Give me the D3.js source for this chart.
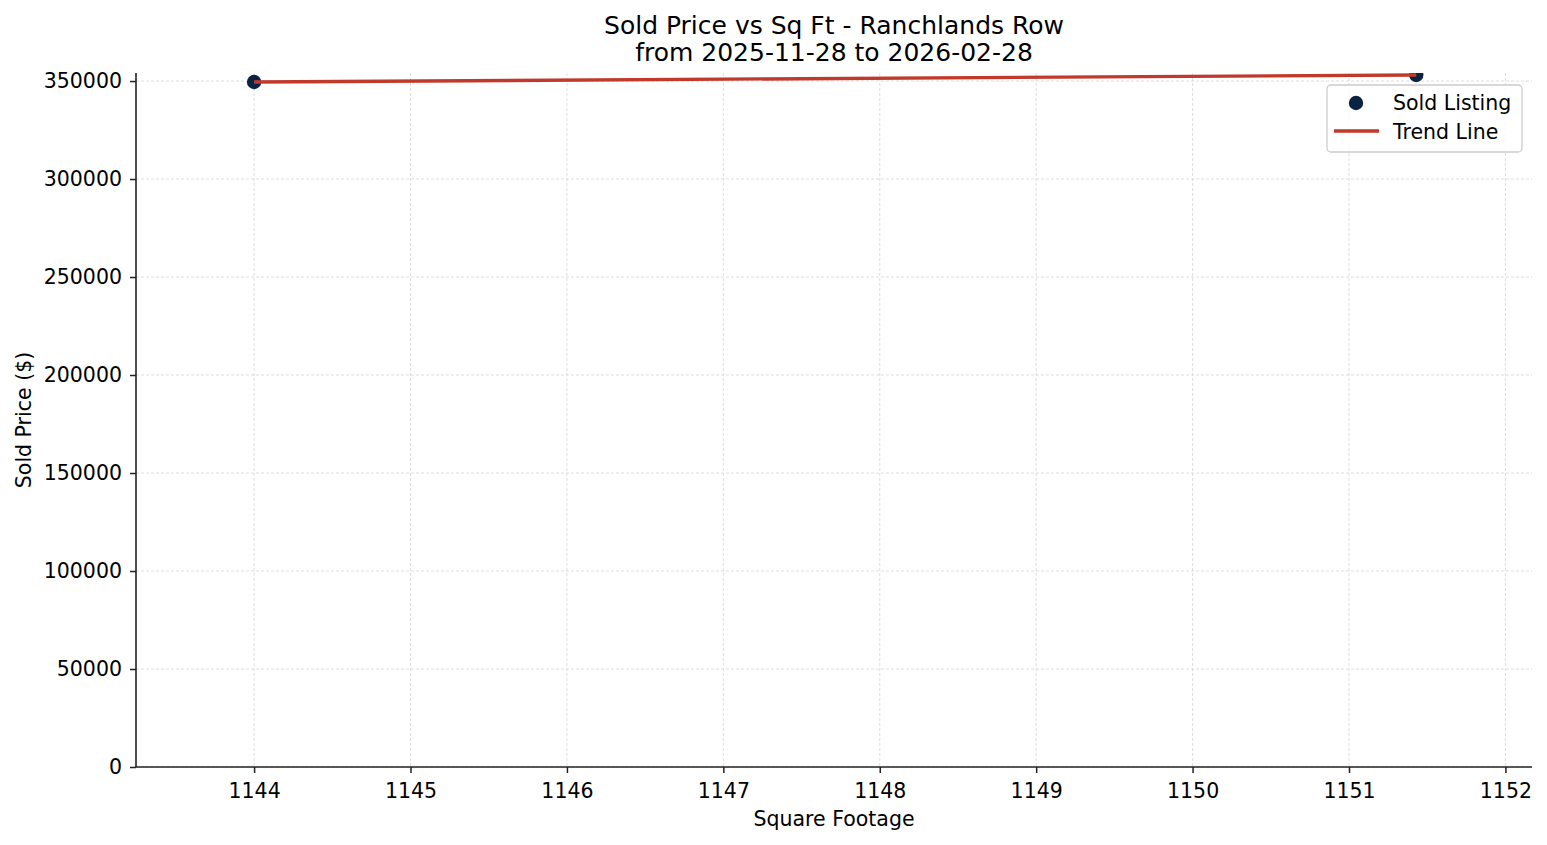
<!DOCTYPE html>
<html>
<head>
<meta charset="utf-8">
<script src="https://cdn.jsdelivr.net/npm/d3@7"></script>
<style>
  body { margin: 0; background: #fff; }
  svg text { font-family: "DejaVu Sans", sans-serif; fill: #000; }
</style>
</head>
<body>
<svg id="svg"></svg>
<script>
// Sold price vs square footage scatter with trend line

const width = 1547;
const height = 845;

// data
const sqft = [1144, 1151.43];
const soldPrice = [349500, 353100];
const trendX = [1144, 1151.43];
const trendY = [349500, 353100];
const xTicks = [1144, 1145, 1146, 1147, 1148, 1149, 1150, 1151, 1152];
const yTicks = [0, 50000, 100000, 150000, 200000, 250000, 300000, 350000];

const margin = { top: 73, left: 136, bottom: 78, right: 15 };
const fontSize = "20.5px";

const svg = d3.select("#svg").attr("width", width).attr("height", height);

const x = d3
    .scaleLinear()
    .domain([1143.245, 1152.17])
    .range([margin.left, width - margin.right]);

const y = d3
    .scaleLinear()
    .domain([0, 354100])
    .range([height - margin.bottom, margin.top]);

svg.append("defs")
    .append("clipPath")
    .attr("id", "clip")
    .append("rect")
    .attr("x", margin.left)
    .attr("y", margin.top)
    .attr("width", width - margin.left - margin.right)
    .attr("height", height - margin.top - margin.bottom);

// grid
const gGrid = svg.append("g");
gGrid.selectAll("line.vgrid")
    .data(xTicks)
    .join("line")
    .attr("x1", (d) => x(d))
    .attr("x2", (d) => x(d))
    .attr("y1", margin.top)
    .attr("y2", height - margin.bottom)
    .attr("stroke", "#d6d6d6")
    .attr("stroke-width", 0.8)
    .attr("stroke-dasharray", "3,2");
gGrid.selectAll("line.hgrid")
    .data(yTicks)
    .join("line")
    .attr("x1", margin.left)
    .attr("x2", width - margin.right)
    .attr("y1", (d) => y(d))
    .attr("y2", (d) => y(d))
    .attr("stroke", "#d6d6d6")
    .attr("stroke-width", 0.8)
    .attr("stroke-dasharray", "3,2");

// axes
const xAxis = d3.axisBottom(x).tickValues(xTicks).tickSize(6).tickPadding(10).tickFormat(d3.format("d"));
const yAxis = d3.axisLeft(y).tickValues(yTicks).tickSize(6).tickPadding(8).tickFormat(d3.format("d"));

const gx = svg.append("g")
    .attr("transform", `translate(0,${height - margin.bottom})`)
    .call(xAxis);
const gy = svg.append("g")
    .attr("transform", `translate(${margin.left},0)`)
    .call(yAxis);

[gx, gy].forEach((g) => {
    g.select(".domain").attr("stroke", "#222").attr("stroke-width", 1.6);
    g.selectAll(".tick line").attr("stroke", "#222").attr("stroke-width", 1.5);
    g.selectAll(".tick text").style("font-size", fontSize).attr("fill", "#000");
});
gx.select(".domain").attr("d", `M${margin.left},0H${width - margin.right}`);
gy.select(".domain").attr("d", `M0,${height - margin.bottom}V${margin.top}`);

// marks
const gPlot = svg.append("g").attr("clip-path", "url(#clip)");

gPlot.selectAll("circle.pt")
    .data(sqft)
    .join("circle")
    .attr("class", "pt")
    .attr("cx", (d) => x(d))
    .attr("cy", (d, i) => y(soldPrice[i]))
    .attr("r", 7.2)
    .attr("fill", "#0b2343");

const line = d3.line()
    .x((d) => x(d[0]))
    .y((d) => y(d[1]));

gPlot.append("path")
    .datum(trendX.map((d, i) => [d, trendY[i]]))
    .attr("d", line)
    .attr("fill", "none")
    .attr("stroke", "#c0392b")
    .attr("stroke-width", 3.4);

// titles
const midX = (margin.left + width - margin.right) / 2;
svg.append("text")
    .attr("x", midX)
    .attr("y", 34)
    .attr("text-anchor", "middle")
    .style("font-size", "25px")
    .text("Sold Price vs Sq Ft - Ranchlands Row");
svg.append("text")
    .attr("x", midX)
    .attr("y", 61)
    .attr("text-anchor", "middle")
    .style("font-size", "25px")
    .text("from 2025-11-28 to 2026-02-28");

svg.append("text")
    .attr("x", midX)
    .attr("y", 826)
    .attr("text-anchor", "middle")
    .style("font-size", fontSize)
    .text("Square Footage");

svg.append("text")
    .attr("transform", `translate(31,${(margin.top + height - margin.bottom) / 2}) rotate(-90)`)
    .attr("text-anchor", "middle")
    .style("font-size", fontSize)
    .text("Sold Price ($)");

// legend
const gLegend = svg.append("g").attr("transform", "translate(1327,85)");
gLegend.append("rect")
    .attr("width", 195)
    .attr("height", 67)
    .attr("rx", 4)
    .attr("fill", "#fff")
    .attr("fill-opacity", 0.8)
    .attr("stroke", "#cccccc")
    .attr("stroke-width", 1.3);
gLegend.append("circle")
    .attr("cx", 29)
    .attr("cy", 18)
    .attr("r", 7.2)
    .attr("fill", "#0b2343");
gLegend.append("line")
    .attr("x1", 7)
    .attr("x2", 52)
    .attr("y1", 46)
    .attr("y2", 46)
    .attr("stroke", "#c0392b")
    .attr("stroke-width", 3.4);
gLegend.append("text")
    .attr("x", 66)
    .attr("y", 25)
    .style("font-size", fontSize)
    .text("Sold Listing");
gLegend.append("text")
    .attr("x", 66)
    .attr("y", 54)
    .style("font-size", fontSize)
    .text("Trend Line");
</script>
</body>
</html>
